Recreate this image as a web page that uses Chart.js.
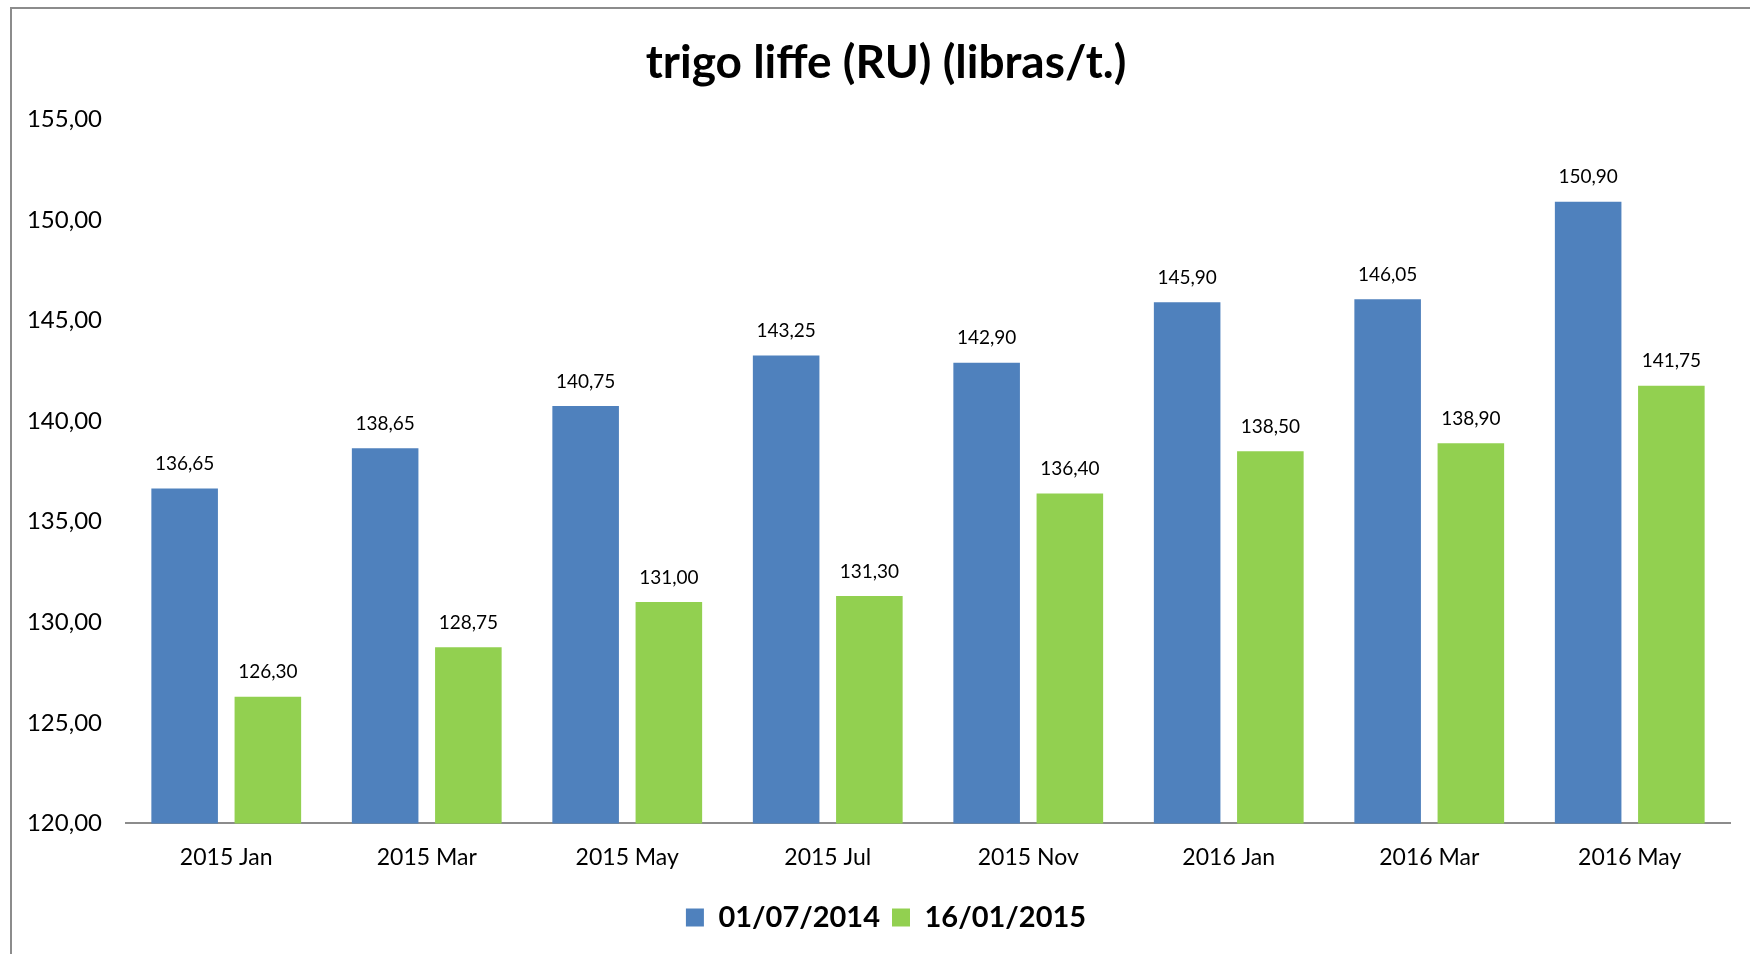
<!DOCTYPE html>
<html>
<head>
<meta charset="utf-8">
<script src="https://cdn.jsdelivr.net/npm/chart.js@4"></script>
<style>
  html, body { margin: 0; padding: 0; background: #fff; overflow: hidden; }
  #wrap { position: relative; width: 1750px; height: 954px; }
  #frame {
    position: absolute; left: 10px; top: 7px; width: 1800px; height: 1000px;
    border: 2px solid #8c8c8c; box-sizing: border-box;
  }
  canvas { position: absolute; left: 0; top: 0; }
</style>
</head>
<body>
<div id="wrap">
  <div id="frame"></div>
  <canvas id="myChart" width="1750" height="954"></canvas>
</div>
<script>
// Contract months
const categories = ['2015 Jan', '2015 Mar', '2015 May', '2015 Jul', '2015 Nov', '2016 Jan', '2016 Mar', '2016 May'];

// Prices on each date (libras/t.)
const seriesNames = ['01/07/2014', '16/01/2015'];
const pricesJul2014 = [136.65, 138.65, 140.75, 143.25, 142.90, 145.90, 146.05, 150.90];
const pricesJan2015 = [126.30, 128.75, 131.00, 131.30, 136.40, 138.50, 138.90, 141.75];

// Y axis ticks
const yMin = 120;
const yMax = 155;
const yStep = 5;

const fontFamily = 'Lato, "Open Sans", sans-serif';

// Format numbers with a comma as decimal separator
const fmt = (v) => v.toFixed(2).replace('.', ',');

// Draws value labels above each bar
const barLabels = {
    id: 'barLabels',
    afterDatasetsDraw(chart) {
        const ctx = chart.ctx;
        ctx.save();
        ctx.font = '19px ' + fontFamily;
        ctx.fillStyle = '#000';
        ctx.textAlign = 'center';
        ctx.textBaseline = 'bottom';
        chart.data.datasets.forEach((ds, i) => {
            chart.getDatasetMeta(i).data.forEach((bar, j) => {
                ctx.fillText(fmt(ds.data[j]), bar.x, bar.y - 15);
            });
        });
        ctx.restore();
    }
};

const ctx = document.getElementById('myChart').getContext('2d');
let myChart = new Chart(ctx, {
    type: 'bar',
    data: {
        labels: categories,
        datasets: [
            {
                label: seriesNames[0],
                data: pricesJul2014,
                backgroundColor: '#4f81bd',
                categoryPercentage: 0.83,
                barPercentage: 0.8,
            },
            {
                label: seriesNames[1],
                data: pricesJan2015,
                backgroundColor: '#92d050',
                categoryPercentage: 0.83,
                barPercentage: 0.8,
            },
        ],
    },
    options: {
        responsive: false,
        animation: false,
        // negative right padding + empty right axis: centres title/legend like the original
        layout: { padding: { left: 0, right: -22, top: 12, bottom: 12 } },
        plugins: {
            title: {
                display: true,
                text: 'trigo liffe (RU) (libras/t.)',
                color: '#000',
                font: { family: fontFamily, size: 46, weight: 'bold' },
                padding: { top: 24, bottom: 28 },
            },
            legend: {
                position: 'bottom',
                labels: {
                    color: '#000',
                    font: { family: fontFamily, size: 29, weight: 'bold' },
                    boxWidth: 18,
                    boxHeight: 18,
                    padding: 12,
                },
            },
            tooltip: { enabled: false },
        },
        scales: {
            x: {
                grid: { display: false, drawTicks: false },
                border: { display: true, color: '#8c8c8c', width: 2 },
                ticks: {
                    color: '#000',
                    font: { family: fontFamily, size: 23 },
                    padding: 20,
                },
            },
            y: {
                min: yMin,
                max: yMax,
                grid: { display: false, drawTicks: false },
                border: { display: false },
                ticks: {
                    stepSize: yStep,
                    color: '#000',
                    font: { family: fontFamily, size: 24 },
                    padding: 24,
                    callback: (v) => fmt(v),
                },
                afterFit(scale) { scale.width = 126; },
            },
            yRight: {
                position: 'right',
                min: yMin,
                max: yMax,
                grid: { display: false, drawTicks: false },
                border: { display: false },
                ticks: { display: false },
                afterFit(scale) { scale.width = 42; },
            },
        },
    },
    plugins: [barLabels],
});
</script>
</body>
</html>
